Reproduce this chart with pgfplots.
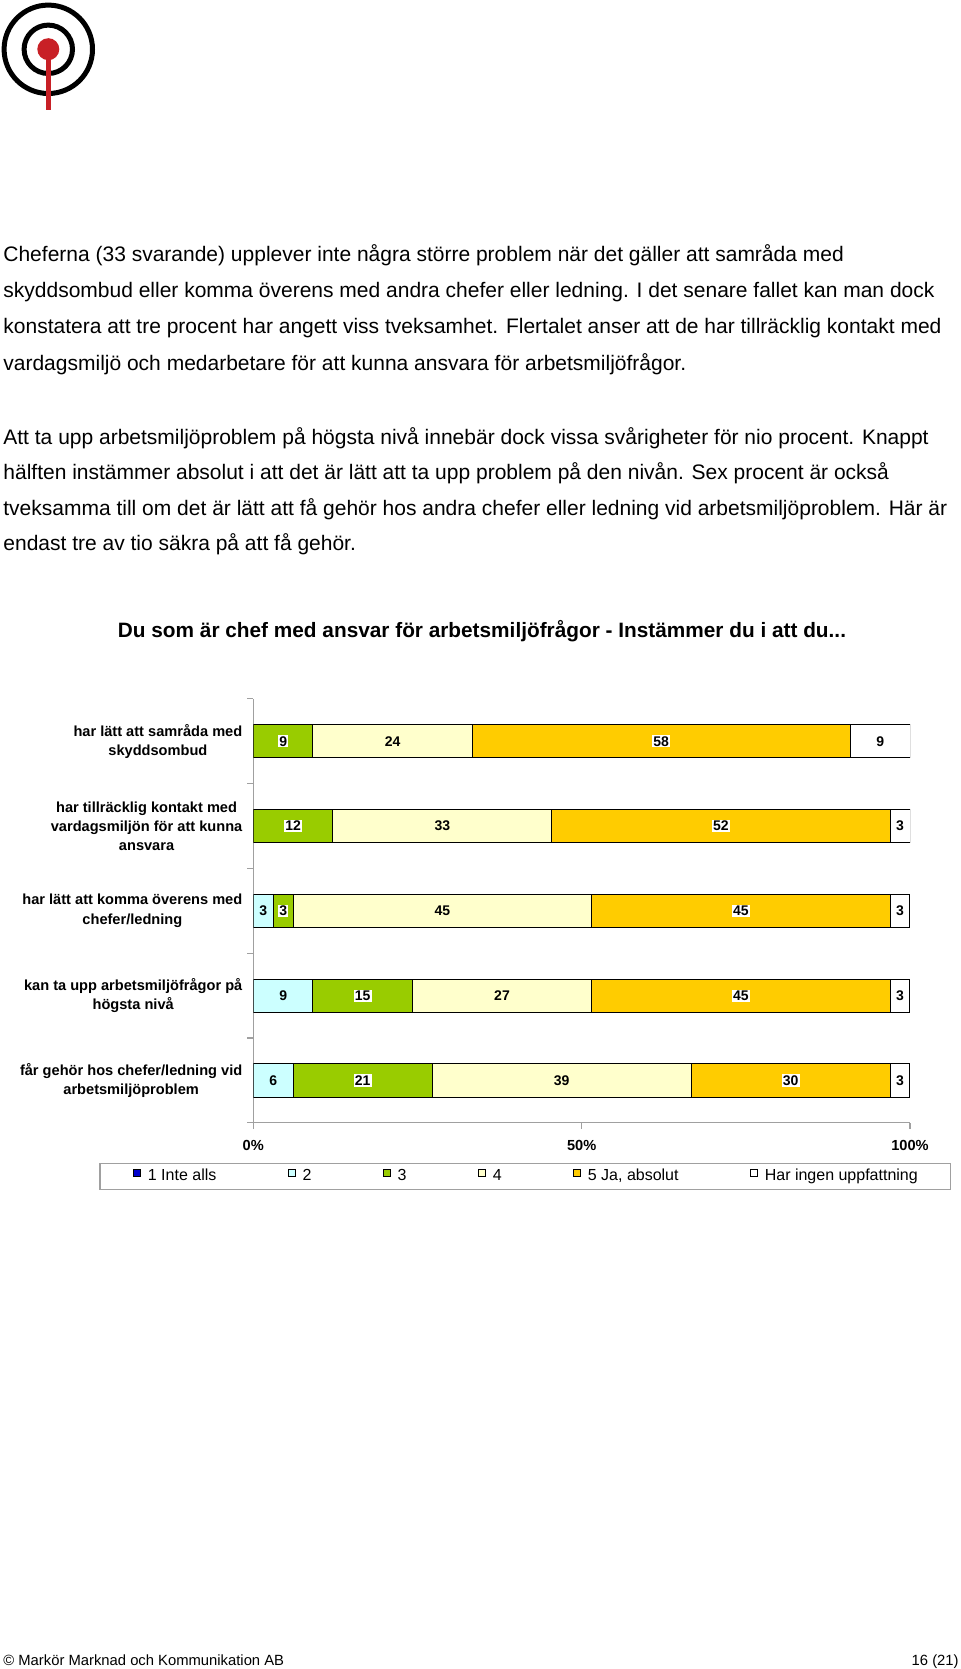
\documentclass[border=0pt]{standalone}
\usepackage{fontspec}
\setmainfont{Liberation Sans}
\usepackage{pgfplots}
\pgfplotsset{compat=1.18}
\usepackage{pgfplotstable}
\definecolor{c1}{RGB}{0,0,204}
\definecolor{c2}{RGB}{204,255,255}
\definecolor{c3}{RGB}{153,204,0}
\definecolor{c4}{RGB}{255,255,204}
\definecolor{c5}{RGB}{255,204,0}
\definecolor{c6}{RGB}{255,255,255}
\definecolor{logored}{RGB}{200,32,38}
\definecolor{axgray}{RGB}{160,160,160}

\pgfplotstableread{
y s1 s2 s3 s4 s5 s6
5 0 0 9.09 24.24 57.58 9.09
4 0 0 12.12 33.33 51.52 3.03
3 0 3.03 3.03 45.45 45.45 3.03
2 0 9.09 15.15 27.27 45.45 3.03
1 0 6.06 21.21 39.39 30.30 3.03
}\data

\newcommand{\gap}{\rule{35.6pt}{0pt}}

\begin{document}
\begin{tikzpicture}[x=0.5pt,y=-0.5pt]
\path[use as bounding box] (0,0) rectangle (960,1669);
% logo
\draw[line width=2.5pt] (48.3,49.3) circle[radius=44.2];
\draw[line width=2.5pt] (48.3,49.3) circle[radius=24.2];
\fill[logored] (45.7,49) rectangle (50.7,110);
\fill[logored] (48.3,49.2) circle[radius=11];

% text
\begin{scope}[every node/.style={anchor=base west, inner sep=0pt, font=\fontsize{10.5}{12}\selectfont}]
\node at (3,261.7) {Cheferna (33 svarande) upplever inte några större problem när det gäller att samråda med};
\node at (3,297.8) {skyddsombud eller komma överens med andra chefer eller ledning. I det senare fallet kan man dock};
\node at (3,333.9) {konstatera att tre procent har angett viss tveksamhet. Flertalet anser att de har tillräcklig kontakt med};
\node at (3,370.0) {vardagsmiljö och medarbetare för att kunna ansvara för arbetsmiljöfrågor.};
\node at (3,444.0) {Att ta upp arbetsmiljöproblem på högsta nivå innebär dock vissa svårigheter för nio procent. Knappt};
\node at (3,479.6) {hälften instämmer absolut i att det är lätt att ta upp problem på den nivån. Sex procent är också};
\node at (3,515.2) {tveksamma till om det är lätt att få gehör hos andra chefer eller ledning vid arbetsmiljöproblem. Här är};
\node at (3,550.8) {endast tre av tio säkra på att få gehör.};
\end{scope}

\node[anchor=base, inner sep=0pt, font=\bfseries\fontsize{10.4}{12}\selectfont] at (482,637.5) {Du som är chef med ansvar för arbetsmiljöfrågor - Instämmer du i att du...};

\node[anchor=base west, inner sep=0pt, font=\fontsize{7.4}{9}\selectfont] at (3,1665) {© Markör Marknad och Kommunikation AB};
\node[anchor=base east, inner sep=0pt, font=\fontsize{7.4}{9}\selectfont] at (959,1665) {16 (21)};

\begin{axis}[
  at={(126.65pt,-561.4pt)}, anchor=south west,
  scale only axis, width=328.35pt, height=212pt,
  xbar stacked, bar width=16.6pt,
  xmin=0, xmax=100, ymin=0.5, ymax=5.5,
  axis x line*=bottom, axis y line*=left,
  axis line style={axgray, line width=0.6pt},
  tick align=outside,
  major tick length=3pt, minor tick length=3pt,
  tick style={axgray, line width=0.6pt},
  every major y tick/.append style={draw=none},
  xtick={0,50,100}, xticklabels={0\%,50\%,100\%},
  ytick={1,2,3,4,5},
  minor ytick={0.5,1.5,2.5,3.5,4.5,5.5},
  yticklabels={{får gehör hos chefer/ledning vid\\arbetsmiljöproblem},
               {kan ta upp arbetsmiljöfrågor på\\högsta nivå},
               {har lätt att komma överens med\\chefer/ledning},
               {har tillräcklig kontakt med\\vardagsmiljön för att kunna\\ansvara},
               {har lätt att samråda med\\skyddsombud}},
  yticklabel style={font=\bfseries\fontsize{7.3}{9.6}\selectfont, align=center, inner sep=0pt, xshift=-2.3pt},
  xticklabel style={font=\bfseries\fontsize{7.3}{9}\selectfont, yshift=-2.4pt},
  nodes near coords={\pgfmathfloatifflags{\pgfplotspointmeta}{0}{}{\pgfmathprintnumber[fixed,precision=0,assume math mode=true]{\pgfplotspointmeta}}},
  every node near coord/.append style={font=\bfseries\fontsize{7}{8}\selectfont, inner sep=0.6pt, black},
  legend columns=6,
  legend style={at={(-0.2345,0)}, anchor=north west, yshift=-20pt,
     draw=axgray, line width=0.6pt,
     font=\fontsize{8}{9.6}\selectfont,
     inner xsep=16.5pt, inner ysep=2.7pt,
     nodes={inner sep=0pt, text height=5.8pt, text depth=1.7pt},
     /tikz/every odd column/.append style={column sep=3.3pt}},
  legend image code/.code={\draw[#1,draw=black,line width=0.5pt] (0pt,-0.2pt) rectangle (3.7pt,3.5pt);},
]
\addplot[fill=c1, draw=black, line width=0.5pt] table[x=s1,y=y]{\data};
\addplot[fill=c2, draw=black, line width=0.5pt] table[x=s2,y=y]{\data};
\addplot[fill=c3, draw=black, line width=0.5pt, every node near coord/.append style={fill=white}] table[x=s3,y=y]{\data};
\addplot[fill=c4, draw=black, line width=0.5pt] table[x=s4,y=y]{\data};
\addplot[fill=c5, draw=black, line width=0.5pt, every node near coord/.append style={fill=white}] table[x=s5,y=y]{\data};
\addplot[fill=c6, draw=black, line width=0.5pt] table[x=s6,y=y]{\data};
\addlegendentry{1 Inte alls\gap}
\addlegendentry{2\gap}
\addlegendentry{3\gap}
\addlegendentry{4\gap}
\addlegendentry{5 Ja, absolut\gap}
\addlegendentry{Har ingen uppfattning}
\end{axis}
\end{tikzpicture}
\end{document}
